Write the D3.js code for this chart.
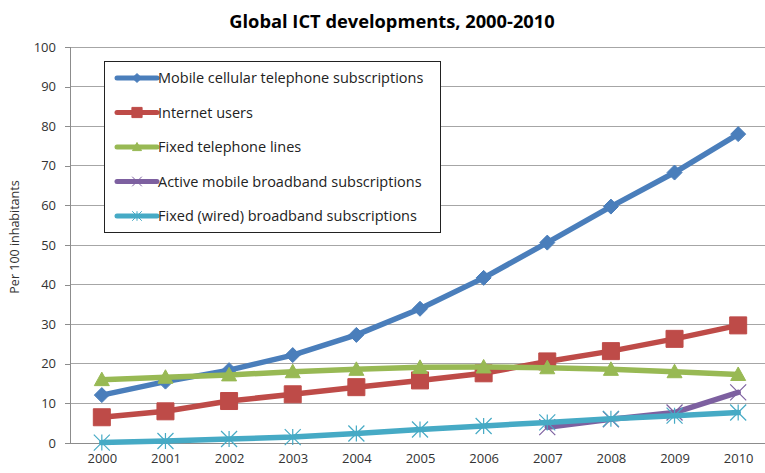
<!DOCTYPE html>
<html>
<head>
<meta charset="utf-8">
<script src="https://cdn.jsdelivr.net/npm/d3@7"></script>
<style>
  html, body { margin: 0; padding: 0; background: #fff; }
  svg { display: block; }
  text { font-family: "Open Sans", "Liberation Sans", sans-serif; }
</style>
</head>
<body>
<svg id="chart" width="765" height="473"></svg>
<script>
// Years on the category axis
const years = ["2000","2001","2002","2003","2004","2005","2006","2007","2008","2009","2010"];
const yTicks = [0,10,20,30,40,50,60,70,80,90,100];

// Per 100 inhabitants
const mobileCellular = [12.1,15.5,18.4,22.2,27.3,33.9,41.7,50.6,59.7,68.3,78.0];
const internetUsers = [6.5,8.0,10.6,12.3,14.1,15.8,17.6,20.6,23.2,26.3,29.7];
const fixedTelephone = [16.0,16.6,17.2,18.0,18.6,19.1,19.2,19.0,18.6,18.0,17.3];
const mobileBroadband = [null,null,null,null,null,null,null,4.0,6.0,7.7,12.8];
const fixedBroadband = [0.1,0.5,1.0,1.5,2.4,3.4,4.3,5.2,6.1,6.9,7.7];

const seriesNames = [
  "Mobile cellular telephone subscriptions",
  "Internet users",
  "Fixed telephone lines",
  "Active mobile broadband subscriptions",
  "Fixed (wired) broadband subscriptions"
];
const seriesValues = [mobileCellular, internetUsers, fixedTelephone, mobileBroadband, fixedBroadband];
const colors = ["#4a7ebb", "#be4b48", "#98b954", "#7d60a0", "#46aac5"];
const markers = ["diamond", "square", "triangle", "x", "asterisk"];

const svg = d3.select("#chart");
const plot = { left: 70, right: 770, top: 47, bottom: 443 };

const x = d3.scalePoint().domain(years).range([plot.left, plot.right]).padding(0.5);
const y = d3.scaleLinear().domain([0, 100]).range([plot.bottom, plot.top]);

// Title
svg.append("text")
  .attr("x", 392).attr("y", 28)
  .attr("text-anchor", "middle")
  .attr("font-size", 18.3).attr("font-weight", "bold").attr("fill", "#000")
  .text("Global ICT developments, 2000-2010");

// Gridlines
svg.append("g")
  .selectAll("line").data(yTicks.filter(d => d > 0)).join("line")
  .attr("x1", plot.left).attr("x2", plot.right)
  .attr("y1", d => y(d)).attr("y2", d => y(d))
  .attr("stroke", "#a6a6a6").attr("stroke-width", 1).attr("shape-rendering", "crispEdges");

// Y axis
const yAxis = svg.append("g")
  .attr("transform", `translate(${plot.left},0)`)
  .call(d3.axisLeft(y).tickValues(yTicks).tickSize(5).tickPadding(9));
yAxis.select(".domain").attr("stroke", "#8c8c8c").attr("shape-rendering", "crispEdges");
yAxis.selectAll(".tick line").attr("stroke", "#8c8c8c").attr("shape-rendering", "crispEdges");
yAxis.selectAll(".tick text").attr("font-size", 13).attr("fill", "#333")
  .attr("font-family", "'Open Sans', sans-serif");

// X axis
const xAxis = svg.append("g")
  .attr("transform", `translate(0,${plot.bottom})`)
  .call(d3.axisBottom(x).tickSize(0).tickPadding(11));
xAxis.select(".domain").attr("stroke", "#8c8c8c").attr("shape-rendering", "crispEdges");
xAxis.selectAll(".tick text").attr("font-size", 13).attr("fill", "#333")
  .attr("font-family", "'Open Sans', sans-serif");

// Y axis title
svg.append("text")
  .attr("transform", `translate(19,237) rotate(-90)`)
  .attr("text-anchor", "middle")
  .attr("font-size", 12.5).attr("fill", "#333")
  .text("Per 100 inhabitants");

function markerPath(type, size) {
  const s = size;
  switch (type) {
    case "diamond": return `M0,${-s}L${s},0L0,${s}L${-s},0Z`;
    case "square": return `M${-s},${-s}H${s}V${s}H${-s}Z`;
    case "triangle": return `M0,${-s}L${s},${s * 0.8}L${-s},${s * 0.8}Z`;
    case "x": return `M${-s},${-s}L${s},${s}M${s},${-s}L${-s},${s}`;
    case "asterisk": return `M${-s},${-s}L${s},${s}M${s},${-s}L${-s},${s}M0,${-s}V${s}`;
  }
}
const markerSize = [7.5, 8.5, 7.5, 8, 8];

const line = d3.line()
  .defined(d => d.v != null)
  .x(d => x(d.year)).y(d => y(d.v));

// Draw series in order so later ones sit on top
seriesValues.forEach((vals, i) => {
  const pts = years.map((yr, j) => ({ year: yr, v: vals[j] }));
  const g = svg.append("g");
  g.append("path")
    .attr("d", line(pts))
    .attr("fill", "none").attr("stroke", colors[i])
    .attr("stroke-width", 5.5).attr("stroke-linejoin", "round").attr("stroke-linecap", "round");
  const open = markers[i] === "x" || markers[i] === "asterisk";
  g.selectAll("path.m").data(pts.filter(d => d.v != null)).join("path")
    .attr("class", "m")
    .attr("transform", d => `translate(${x(d.year)},${y(d.v)})`)
    .attr("d", markerPath(markers[i], markerSize[i]))
    .attr("fill", open ? "none" : colors[i])
    .attr("stroke", colors[i]).attr("stroke-width", open ? 1.2 : 1);
});

// Legend
const legend = svg.append("g");
legend.append("rect")
  .attr("x", 104.5).attr("y", 61.5).attr("width", 336).attr("height", 171)
  .attr("fill", "#fff").attr("stroke", "#222").attr("stroke-width", 1);
seriesNames.forEach((name, i) => {
  const ly = 78 + i * 34.5;
  const lg = legend.append("g");
  lg.append("line")
    .attr("x1", 117).attr("x2", 157).attr("y1", ly).attr("y2", ly)
    .attr("stroke", colors[i]).attr("stroke-width", 5).attr("stroke-linecap", "round");
  const open = markers[i] === "x" || markers[i] === "asterisk";
  lg.append("path")
    .attr("transform", `translate(137,${ly})`)
    .attr("d", markerPath(markers[i], markerSize[i] * 0.6))
    .attr("fill", open ? "none" : colors[i])
    .attr("stroke", colors[i]).attr("stroke-width", 1);
  lg.append("text")
    .attr("x", 158).attr("y", ly + 5)
    .attr("font-size", 14.5).attr("fill", "#222")
    .text(name);
});
</script>
</body>
</html>
